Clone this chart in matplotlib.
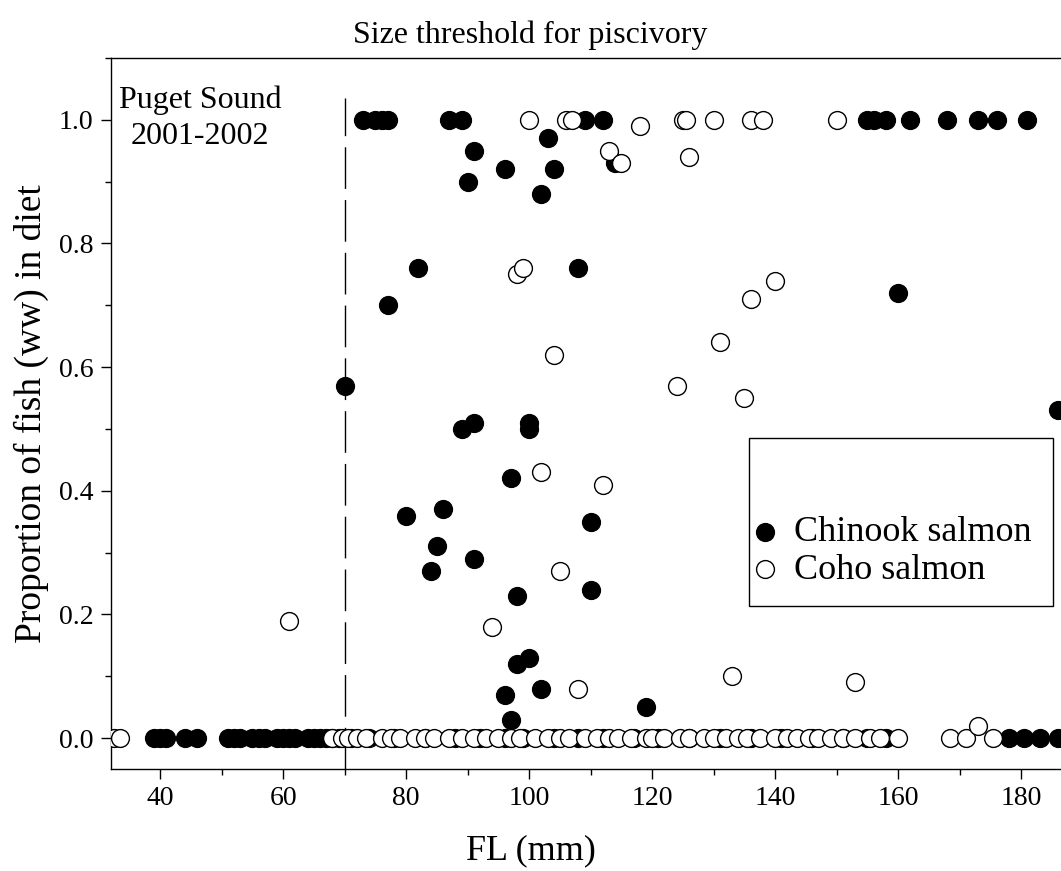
import matplotlib
matplotlib.use("Agg")
import matplotlib.pyplot as plt
from matplotlib.patches import Rectangle
from matplotlib.ticker import MultipleLocator, FormatStrFormatter

plt.rcParams['font.family'] = ['Liberation Serif', 'DejaVu Serif']

# Chinook salmon (filled symbols): fork length (mm) and proportion of fish in diet
chinook_fl = [70, 73, 75, 76, 77, 77, 82, 80, 85, 84, 86, 87, 89, 89, 91, 90, 91, 91,
              96, 97, 98, 98, 100, 96, 97, 100, 100, 102, 103, 104, 102, 108, 109, 112,
              110, 110, 114, 119, 155, 156, 158, 162, 168, 173, 176, 181, 160, 186]
chinook_prop = [0.57, 1.0, 1.0, 1.0, 1.0, 0.70, 0.76, 0.36, 0.31, 0.27, 0.37, 1.0, 1.0, 0.50,
                0.51, 0.90, 0.95, 0.29, 0.92, 0.42, 0.23, 0.12, 0.13, 0.07, 0.03, 0.51, 0.50,
                0.88, 0.97, 0.92, 0.08, 0.76, 1.0, 1.0, 0.35, 0.24, 0.93, 0.05, 1.0, 1.0,
                1.0, 1.0, 1.0, 1.0, 1.0, 1.0, 0.72, 0.53]
chinook_zero_fl = [39, 40, 41, 44, 46, 51, 52, 53, 55, 56, 57, 59, 60, 61, 62, 64, 65, 66,
                   67, 68, 69, 71, 74, 78, 83, 88, 92, 96, 99, 104, 108, 112, 117, 121, 126,
                   131, 136, 141, 146, 151, 155, 158, 178, 180.5, 183, 186]

# Coho salmon (open symbols)
coho_fl = [61, 98, 99, 100, 104, 102, 105, 94, 108, 112, 106, 107, 113, 115, 118, 124,
           125, 125.5, 126, 130, 131, 133, 135, 136, 136, 138, 140, 150, 153, 173]
coho_prop = [0.19, 0.75, 0.76, 1.0, 0.62, 0.43, 0.27, 0.18, 0.08, 0.41, 1.0, 1.0, 0.95,
             0.93, 0.99, 0.57, 1.0, 1.0, 0.94, 1.0, 0.64, 0.10, 0.55, 0.71, 1.0, 1.0,
             0.74, 1.0, 0.09, 0.02]
coho_zero_fl = [32.5, 33.5, 68, 69.5, 70.5, 72, 73.5, 76, 77.5, 79, 81.5, 83, 84.5, 87,
                89, 91, 93, 95, 97, 98.5, 101, 103, 105, 106.5, 109, 111, 113, 114.5,
                116.5, 119, 120, 122, 124.5, 126, 128.5, 130, 132, 134, 135.5, 137.5, 140,
                142, 143.5, 145.5, 147, 149, 151, 153, 155.5, 157, 160, 168.5, 171, 175.5]

threshold_fl = 70

W, H = 1061, 871
fig = plt.figure(figsize=(W / 100, H / 100), dpi=100)
ax = fig.add_axes([0.1046, 0.1171, 0.9158, 0.8163])

ms = 165
ax.scatter(chinook_zero_fl, [0.0] * len(chinook_zero_fl), s=ms, c='black',
           edgecolors='black', linewidths=1, zorder=3)
ax.scatter(chinook_fl, chinook_prop, s=ms, c='black', edgecolors='black',
           linewidths=1, zorder=3, label='Chinook salmon')
ax.scatter(coho_zero_fl, [0.0] * len(coho_zero_fl), s=ms, c='white',
           edgecolors='black', linewidths=1, zorder=4)
ax.scatter(coho_fl, coho_prop, s=ms, c='white', edgecolors='black',
           linewidths=1, zorder=4, label='Coho salmon')

ax.plot([threshold_fl, threshold_fl], [-0.05, 1.035], color='black', lw=1,
        dashes=(30, 8), zorder=2)

ax.set_xlim(32, 190)
ax.set_ylim(-0.05, 1.1)
ax.xaxis.set_major_locator(MultipleLocator(20))
ax.xaxis.set_minor_locator(MultipleLocator(10))
ax.yaxis.set_major_locator(MultipleLocator(0.2))
ax.yaxis.set_minor_locator(MultipleLocator(0.1))
ax.yaxis.set_major_formatter(FormatStrFormatter('%.1f'))
ax.tick_params(which='major', direction='out', length=7.5, width=1, labelsize=20, pad=5)
ax.tick_params(which='minor', direction='out', length=4.5, width=1)
for sp in ax.spines.values():
    sp.set_linewidth(1)

ax.set_xlabel('FL (mm)', fontsize=26)
ax.xaxis.set_label_coords((531 - 111) / 971.7, -0.092)
ax.set_ylabel('Proportion of fish (ww) in diet', fontsize=27)
ax.yaxis.label.set_verticalalignment('center')
ax.yaxis.set_label_coords((31 - 111) / 971.7, 0.5)
fig.text(530 / W, 1 - 35 / H, 'Size threshold for piscivory', fontsize=23,
         ha='center', va='center')

ax.text(46.5, 1.003, 'Puget Sound\n2001-2002', fontsize=23, ha='center', va='center',
        linespacing=1.3)

# legend box (taller than its entries, entries in the lower part)
fig.patches.append(Rectangle((749 / W, 1 - 606 / H), (1053 - 749) / W, (606 - 438) / H,
                             transform=fig.transFigure, fill=False, edgecolor='black',
                             lw=1, zorder=5))
leg = ax.legend(loc='center left', bbox_to_anchor=(751 / W, 1 - 551.5 / H),
                bbox_transform=fig.transFigure, fontsize=26, frameon=False,
                handlelength=0.8, handletextpad=0.4, labelspacing=0.12,
                borderpad=0, borderaxespad=0, scatterpoints=1)

fig.savefig('out.png', dpi=100)
